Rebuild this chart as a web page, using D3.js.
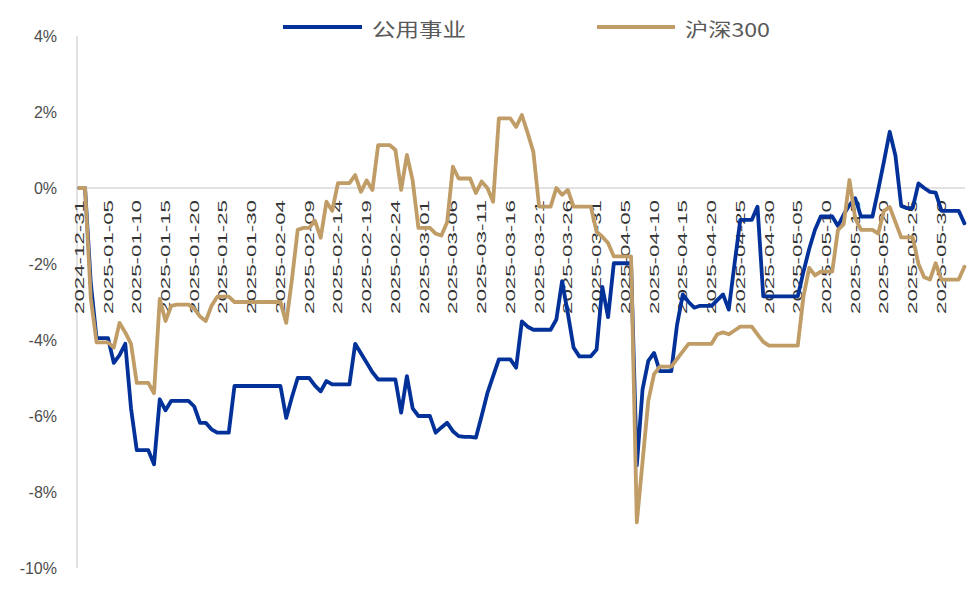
<!DOCTYPE html>
<html>
<head>
<meta charset="utf-8">
<script src="https://cdn.jsdelivr.net/npm/d3@7"></script>
<style>
  html, body { margin: 0; padding: 0; background: #ffffff; }
  svg { display: block; }
</style>
</head>
<body>
<svg id="chart" width="978" height="591"></svg>
<script>
// ---- data ----
const startDate = "2024-12-31";   // first calendar day; one value per calendar day
const endDate = "2025-06-03";
const seriesNames = ["公用事业", "沪深300"];
const tickLabels = ["2024-12-31","2025-01-05","2025-01-10","2025-01-15","2025-01-20","2025-01-25","2025-01-30",
  "2025-02-04","2025-02-09","2025-02-14","2025-02-19","2025-02-24","2025-03-01","2025-03-06","2025-03-11",
  "2025-03-16","2025-03-21","2025-03-26","2025-03-31","2025-04-05","2025-04-10","2025-04-15","2025-04-20",
  "2025-04-25","2025-04-30","2025-05-05","2025-05-10","2025-05-15","2025-05-20","2025-05-25","2025-05-30"];
const yTicks = [4, 2, 0, -2, -4, -6, -8, -10];

// 公用事业 (% cumulative)
const utilities = [
  0, 0, -2.5, -3.95, -3.95, -3.95, -4.6, -4.4, -4.1, -5.8,
  -6.9, -6.9, -6.9, -7.27, -5.56, -5.85, -5.6, -5.6, -5.6, -5.6,
  -5.75, -6.18, -6.18, -6.35, -6.44, -6.44, -6.44, -5.21, -5.21, -5.21,
  -5.21, -5.21, -5.21, -5.21, -5.21, -5.21, -6.05, -5.5, -5.0, -5.0,
  -5.0, -5.2, -5.35, -5.08, -5.17, -5.17, -5.17, -5.17, -4.1, -4.35,
  -4.6, -4.85, -5.04, -5.04, -5.04, -5.04, -5.91, -4.95, -5.8, -6.0,
  -6.0, -6.0, -6.44, -6.3, -6.18, -6.4, -6.53, -6.55, -6.55, -6.57,
  -6.0, -5.4, -4.95, -4.51, -4.51, -4.51, -4.73, -3.51, -3.65, -3.73,
  -3.73, -3.73, -3.73, -3.46, -2.45, -3.3, -4.2, -4.43, -4.43, -4.43,
  -4.25, -2.6, -3.4, -1.98, -1.98, -1.98, -1.98, -7.3, -5.3, -4.55,
  -4.34, -4.82, -4.82, -4.82, -3.6, -2.8, -3.0, -3.15, -3.1, -3.1,
  -3.1, -2.95, -2.8, -3.2, -2.0, -0.84, -0.84, -0.84, -0.49, -2.85,
  -2.85, -2.85, -2.85, -2.85, -2.85, -2.85, -2.2, -1.6, -1.1, -0.75,
  -0.75, -0.75, -1.0, -0.7, -0.45, -0.27, -0.75, -0.75, -0.75, -0.05,
  0.7, 1.48, 0.85, -0.47, -0.53, -0.53, 0.12, 0.0, -0.1, -0.12,
  -0.6, -0.6, -0.6, -0.6, -0.93
];

// 沪深300 (% cumulative)
const hs300 = [
  0, 0, -2.9, -4.06, -4.06, -4.06, -4.2, -3.55, -3.8, -4.1,
  -5.13, -5.13, -5.13, -5.4, -2.92, -3.5, -3.1, -3.07, -3.07, -3.07,
  -3.18, -3.38, -3.5, -3.1, -2.86, -2.86, -2.86, -3.0, -3.0, -3.0,
  -3.0, -3.0, -3.0, -3.0, -3.0, -3.0, -3.55, -2.4, -1.1, -1.05,
  -1.05, -0.86, -1.31, -0.36, -0.6, 0.13, 0.13, 0.13, 0.34, -0.1,
  0.2, -0.05, 1.13, 1.13, 1.13, 1.0, -0.05, 0.87, 0.2, -1.05,
  -1.05, -1.05, -1.2, -1.25, -0.9, 0.56, 0.25, 0.25, 0.25, -0.13,
  0.17, 0.0, -0.36, 1.83, 1.83, 1.83, 1.61, 1.92, 1.45, 0.95,
  -0.49, -0.49, -0.49, 0.0, -0.18, -0.05, -0.49, -0.49, -0.49, -0.49,
  -1.15, -1.28, -1.45, -1.8, -1.8, -1.8, -1.8, -8.8, -7.2, -5.6,
  -4.9, -4.7, -4.7, -4.7, -4.5, -4.3, -4.1, -4.1, -4.1, -4.1,
  -4.1, -3.85, -3.8, -3.85, -3.75, -3.65, -3.65, -3.65, -3.85, -4.05,
  -4.15, -4.15, -4.15, -4.15, -4.15, -4.15, -2.85, -2.1, -2.3, -2.2,
  -2.2, -2.2, -1.1, -0.95, 0.21, -0.8, -1.1, -1.1, -1.1, -1.2,
  -0.6, -0.5, -0.9, -1.3, -1.3, -1.3, -2.0, -2.35, -2.41, -1.98,
  -2.41, -2.41, -2.41, -2.41, -2.07
];

const colors = ["#023299", "#C09C66"];

// ---- chart ----
const parse = d3.utcParse("%Y-%m-%d");
const t0 = parse(startDate), t1 = parse(endDate);
const days = d3.utcDay.range(t0, d3.utcDay.offset(t1, 1));

const svg = d3.select("#chart");
const DAY = 864e5;
const x = d3.scaleUtc()
  .domain([new Date(+t0 - 0.4 * DAY), new Date(+t1 + 0.1 * DAY)])
  .range([77, 965]);
const y = d3.scaleLinear().domain([-10, 4]).range([568, 36]);

// y axis line
svg.append("line")
  .attr("x1", 77).attr("x2", 77)
  .attr("y1", y(4)).attr("y2", y(-10))
  .attr("stroke", "#d9d9d9").attr("stroke-width", 1.5);

// zero line (category axis)
svg.append("line")
  .attr("x1", 77).attr("x2", 965)
  .attr("y1", y(0)).attr("y2", y(0))
  .attr("stroke", "#d9d9d9").attr("stroke-width", 1.5);

// y labels
svg.append("g").selectAll("text").data(yTicks).join("text")
  .attr("x", 57).attr("y", d => y(d))
  .attr("text-anchor", "end")
  .attr("dominant-baseline", "central")
  .attr("font-family", "Liberation Sans, Arial, sans-serif")
  .attr("font-size", 16)
  .attr("fill", "#4d4d4d")
  .text(d => d + "%");

// x labels (rotated)
svg.append("g").selectAll("text").data(tickLabels).join("text")
  .attr("transform", d => `translate(${x(parse(d))},${y(0) + 12}) rotate(-90)`)
  .attr("text-anchor", "end")
  .attr("dominant-baseline", "central")
  .attr("font-family", "Liberation Sans, Arial, sans-serif")
  .attr("font-size", 13)
  .attr("fill", "#333333")
  .attr("textLength", 114)
  .attr("lengthAdjust", "spacingAndGlyphs")
  .text(d => d);

// lines
const line = d3.line()
  .x((d, i) => x(days[i]))
  .y(d => y(d));

[utilities, hs300].forEach((vals, k) => {
  svg.append("path")
    .datum(vals)
    .attr("fill", "none")
    .attr("stroke", colors[k])
    .attr("stroke-width", 3.8)
    .attr("stroke-linejoin", "round")
    .attr("stroke-linecap", "round")
    .attr("d", line);
});

// legend
const legend = [
  { name: seriesNames[0], color: colors[0], x1: 283, x2: 362, tx: 372, tl: 94 },
  { name: seriesNames[1], color: colors[1], x1: 597, x2: 675, tx: 685, tl: 85 }
];
const lg = svg.append("g");
legend.forEach(l => {
  lg.append("line")
    .attr("x1", l.x1).attr("x2", l.x2).attr("y1", 27).attr("y2", 27)
    .attr("stroke", l.color).attr("stroke-width", 4);
  lg.append("text")
    .attr("x", l.tx).attr("y", 28)
    .attr("dominant-baseline", "central")
    .attr("font-family", "Noto Sans CJK SC, sans-serif")
    .attr("font-size", 19)
    .attr("fill", "#595959")
    .attr("textLength", l.tl)
    .attr("lengthAdjust", "spacingAndGlyphs")
    .text(l.name);
});
</script>
</body>
</html>
